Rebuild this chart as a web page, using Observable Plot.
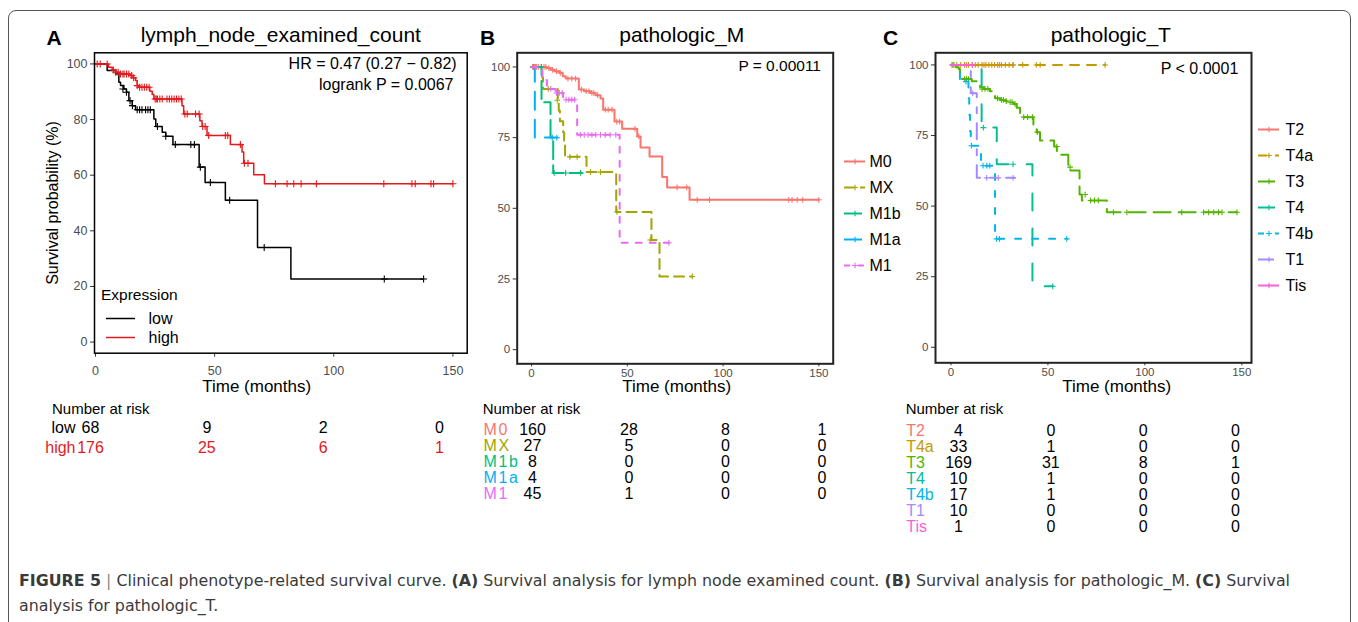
<!DOCTYPE html>
<html><head><meta charset="utf-8">
<script src="https://cdn.jsdelivr.net/npm/d3@7"></script>
<script src="https://cdn.jsdelivr.net/npm/@observablehq/plot@0.6"></script>
<style>
body{margin:0;background:#fff;}
#root{position:relative;width:1358px;height:622px;overflow:hidden;font-family:"Liberation Sans",Arial,sans-serif;background:#fff;}
.abs{position:absolute;white-space:nowrap;}
#root svg{position:absolute;overflow:visible;}
</style></head><body><div id="root"></div>
<script>
// ---------------- DATA ----------------
const riskTimes = [0, 50, 100, 150];
const xTicks = [0, 50, 100, 150];

// Panel A: lymph_node_examined_count
const groupsA = ["low", "high"];
const colorsA = ["#000000", "#e31a1c"];
const lowSteps = [[0,100],[4.9,97.6],[8.4,96.4],[9.8,93.4],[10.5,92.2],[11.9,91],[13,89.8],[14,86.8],[15.4,85],[16.8,83.5],[24.5,80.2],[25.3,77.5],[28,75.4],[29.5,74],[32.5,71],[43.5,62.9],[46,57.4],[54.5,51],[68,34],[82,22.7],[137.7,22.7]];
const lowCensor = [[11.5,91],[13,89.8],[14.5,86.8],[15.5,85],[17.5,83.5],[18.5,83.5],[19.5,83.5],[21,83.5],[22,83.5],[23,83.5],[26,77.5],[29.5,74],[33.5,71],[40,71],[41.5,71],[44,62.9],[48.2,57.4],[56.3,51],[70.8,34],[121.2,22.7],[137.7,22.7]];
const highSteps = [[0,100],[5.5,98.8],[7,97.8],[8.5,97],[10,96.4],[14.5,95.8],[15.8,95],[16.8,94],[17.5,92.2],[18,91.6],[22.8,90.2],[23.8,89],[24.5,87.4],[36.3,85],[37,82],[43.8,79.6],[44.7,77.5],[46.8,74.3],[56.6,71],[61.5,68.3],[62.2,64.3],[66.4,60.2],[70.9,56.9],[150,56.9]];
const highCensor = [[0.7,100],[2,100],[4.9,100],[7.5,97.8],[8.5,97],[9.5,97],[10.5,96.4],[11.5,96.4],[12,96.4],[13,96.4],[14,96.4],[15.2,95.8],[16,95],[17.5,92.2],[18.5,91.6],[19.5,91.6],[20.5,91.6],[21.5,91.6],[22.5,91.6],[25,87.4],[25.5,87.4],[26,87.4],[27,87.4],[28,87.4],[30,87.4],[31,87.4],[32,87.4],[33,87.4],[34,87.4],[35,87.4],[36,87.4],[37.5,82],[38.5,82],[42,82],[43.5,82],[45,77.5],[46,77.5],[47.5,74.3],[54.5,74.3],[55.5,74.3],[60.8,71],[62.5,64.3],[64,64.3],[75.5,56.9],[80.4,56.9],[83.2,56.9],[86.3,56.9],[92.7,56.9],[121,56.9],[132.8,56.9],[134.2,56.9],[140.8,56.9],[141.9,56.9],[150,56.9]];
const riskLow = [68, 9, 2, 0];
const riskHigh = [176, 25, 6, 1];

// Panel B: pathologic_M
const groupsB = ["M0", "MX", "M1b", "M1a", "M1"];
const colorsB = ["#F8766D", "#A3A500", "#00BF7D", "#00B0F6", "#E76BF3"];
const dashesB = [null, "10,6", "18,6", "18,10", "6,8"];
const m0Steps = [[0,100],[8,99.6],[10,99],[12,98.5],[14.5,97.9],[16.3,96.7],[17.8,95.9],[24.7,92],[27.4,91.4],[30.8,90.8],[33.4,90],[36,88.8],[37.4,84.9],[43.3,80.7],[47.3,78.1],[55.2,75.4],[56.9,71.5],[61.6,68.3],[68.2,61.1],[70.8,57.4],[82.5,53],[150,53]];
const m0Censor = [[0.5,100],[1.5,100],[2.5,100],[3.5,100],[5,100],[6.5,100],[7.5,100],[9,99.6],[11,99],[13,98.5],[15,97.9],[19,95.9],[21,95.9],[23,95.9],[26,92],[28.5,91.4],[30,91.4],[31.5,90.8],[32.5,90.8],[34.5,90],[38.5,84.9],[40,84.9],[42,84.9],[44.5,80.7],[46,80.7],[54,78.1],[56,75.4],[76,57.4],[81,57.4],[86.5,53],[92.9,53],[134.3,53],[136,53],[138.7,53],[141.6,53],[150,53]];
const mxSteps = [[0,100],[5.6,96.3],[6,92.2],[13.7,88.2],[14.2,84.5],[14.8,80.8],[16.5,76.9],[17,73],[17.5,68.2],[28.7,62.8],[44.2,48.7],[62.6,38.8],[66.8,25.9],[83.9,25.9]];
const mxCensor = [[1,100],[8.7,92.2],[13.4,88.2],[20,68.2],[23.8,68.2],[30.8,62.8],[36,62.8],[44.6,48.7],[62,38.8],[83.9,25.9]];
const m1bSteps = [[0,100],[5.2,87.5],[9.9,75],[11.3,62.5],[26.5,62.5]];
const m1bCensor = [[5.2,100],[11.8,62.5],[17.8,62.5],[25.6,62.5]];
const m1aSteps = [[0,100],[1.7,75],[13.4,75]];
const m1aCensor = [[10.8,75],[13.2,75]];
const m1Steps = [[0,100],[5.6,95.4],[8,92.2],[12.5,90.8],[16.5,88.4],[23.8,76],[46,37.8],[71.7,37.8]];
const m1Censor = [[2,100],[10,92.2],[13,90.8],[14.5,90.8],[16,90.8],[18,88.4],[19.5,88.4],[21,88.4],[22.5,88.4],[25.5,76],[27.5,76],[29.5,76],[31.5,76],[33.5,76],[36,76],[38.5,76],[41,76],[44,76],[71.7,37.8]];
const riskM0 = [160, 28, 8, 1];
const riskMX = [27, 5, 0, 0];
const riskM1b = [8, 0, 0, 0];
const riskM1a = [4, 0, 0, 0];
const riskM1 = [45, 1, 0, 0];

// Panel C: pathologic_T
const groupsC = ["T2", "T4a", "T3", "T4", "T4b", "T1", "Tis"];
const colorsC = ["#F8766D", "#C49A00", "#53B400", "#00C094", "#00B6EB", "#A58AFF", "#FB61D7"];
const dashesC = [null, "9,8", "17,8", "17,18", "6,11", "16,10,6,10", null];
const t2Steps = [[0,100],[32,100]];
const t2Censor = [[8,100],[17,100],[25,100],[32,100]];
const t4aSteps = [[0,100],[79.5,100]];
const t4aCensor = [[1,100],[3,100],[5,100],[7,100],[9,100],[11,100],[12.5,100],[14,100],[16,100],[18,100],[19.5,100],[21,100],[22.5,100],[24,100],[26,100],[28,100],[30,100],[32,100],[37,100],[44,100],[46,100],[79.5,100]];
const t3Steps = [[0,100],[2.6,99.2],[4,98.6],[4.6,96.8],[5.5,95],[10.7,94.2],[13.3,93.5],[15,92.1],[17,91.5],[20.1,90.7],[22.7,88.2],[25.3,87.6],[28,87.2],[29.6,86.8],[32.2,86.2],[33.9,84.8],[35.6,81.5],[42.5,77.7],[44.2,76.2],[45.9,73.2],[53.2,71.1],[54.6,68.2],[60.5,63.8],[61.4,62.6],[66.3,54.1],[67.5,52],[80.4,47.8],[147.5,47.8]];
const t3Censor = [[0.5,100],[1.5,100],[7,95],[8,95],[9,95],[16,91.5],[17.5,91.5],[19,91.5],[24,88.2],[26,87.6],[27,87.6],[28.5,87.2],[30.5,86.8],[31.5,86.8],[33,86.2],[37.5,81.5],[39.5,81.5],[42,81.5],[44.5,76.2],[54.6,71.1],[61.4,63.8],[69.2,54.1],[72,52],[74,52],[76,52],[83.8,47.8],[90.7,47.8],[119,47.8],[130.3,47.8],[132.9,47.8],[135.5,47.8],[138,47.8],[139.8,47.8],[147.5,47.8]];
const t4Steps = [[0,100],[15.8,77.8],[23.6,64.8],[42,21.6],[52.5,21.6]];
const t4Censor = [[16.7,77.8],[32,64.8],[52.5,21.6]];
const t4bSteps = [[0,100],[4.6,94.1],[9,88.2],[9.4,82.4],[9.8,76.5],[10.2,71.4],[15.5,64.3],[22.7,38.4],[59.7,38.4]];
const t4bCensor = [[7.7,94.1],[10.5,71.4],[16.5,64.3],[18.5,64.3],[20,64.3],[23.5,38.4],[25,38.4],[59.7,38.4]];
const t1Steps = [[0,100],[10.2,90],[13.3,60],[33,60]];
const t1Censor = [[11.2,90],[18.4,60],[24.4,60],[32,60]];
const tisSteps = [[0,100],[11,100]];
const tisCensor = [[11,100]];
const riskT2 = [4, 0, 0, 0];
const riskT4a = [33, 1, 0, 0];
const riskT3 = [169, 31, 8, 1];
const riskT4 = [10, 1, 0, 0];
const riskT4b = [17, 1, 0, 0];
const riskT1 = [10, 0, 0, 0];
const riskTis = [1, 0, 0, 0];

// ---------------- RENDER ----------------
const root = document.getElementById("root");
const FONT = '"Liberation Sans", Arial, sans-serif';
const tickGray = "#4d4d4d";

function place(node, left, top) {
  node.style.left = left + "px"; node.style.top = top + "px";
  root.appendChild(node);
  return node;
}
function txt(html, x, baseline, o = {}) {
  const size = o.size || 16;
  const d = document.createElement("div");
  d.className = "abs";
  d.innerHTML = html;
  d.style.fontSize = size + "px";
  d.style.lineHeight = size + "px";
  d.style.color = o.color || "#000";
  d.style.fontWeight = o.weight || "normal";
  if (o.family) d.style.fontFamily = o.family;
  d.style.left = x + "px";
  d.style.top = (baseline - 0.8465 * size) + "px";
  const a = o.anchor || "start";
  if (a === "middle") d.style.transform = "translateX(-50%)";
  if (a === "end") d.style.transform = "translateX(-100%)";
  root.appendChild(d);
  return d;
}

function panelPlot(c) {
  const marks = [
    Plot.axisX({ticks: xTicks, tickSize: c.xTickSize, tickPadding: c.xPad, fontSize: c.fontSize, fill: tickGray, stroke: "#333", label: null}),
    Plot.axisY({ticks: c.yTicks, tickSize: 4, tickPadding: 3, fontSize: c.fontSize, fill: tickGray, stroke: "#333", label: null})
  ];
  for (const s of c.series) {
    marks.push(Plot.line(s.steps, {x: d => d[0], y: d => d[1], curve: "step-after", stroke: s.color, strokeWidth: c.lineWidth, strokeDasharray: s.dash || undefined}));
    marks.push(Plot.dot(s.censor, {x: d => d[0], y: d => d[1], symbol: "plus", r: c.dotR, stroke: s.color, strokeWidth: 1.1}));
  }
  marks.push(Plot.frame({stroke: c.frameStroke, strokeWidth: c.frameWidth}));
  const p = Plot.plot({
    width: c.width, height: c.height,
    marginLeft: c.fx0 - c.left, marginRight: c.left + c.width - c.fx1,
    marginTop: c.fy0 - c.top, marginBottom: c.top + c.height - c.fy1,
    x: {domain: c.xDomain}, y: {domain: c.yDomain},
    style: {fontFamily: FONT, background: "transparent", overflow: "visible"},
    marks
  });
  place(p, c.left, c.top);
}

function legendPlot(c) {
  const marks = [];
  c.names.forEach((n, i) => {
    marks.push(Plot.ruleY([n], {y: d => d, x1: c.lx0, x2: c.lx1, stroke: c.colors[i], strokeWidth: c.lineWidth, strokeDasharray: c.dashes[i] || undefined}));
  });
  if (c.dotR > 0) marks.push(Plot.dot(c.names, {x: (c.lx0 + c.lx1) / 2, y: d => d, symbol: "plus", r: c.dotR, stroke: (d, i) => c.colors[i], strokeWidth: 1.1}));
  marks.push(Plot.text(c.names, {x: c.tx, y: d => d, text: d => d, textAnchor: "start", fontSize: c.fontSize, fill: "#000"}));
  const p = Plot.plot({
    width: c.width, height: c.height, margin: 0,
    x: {domain: [0, c.width], range: [0, c.width], axis: null},
    y: {type: "point", domain: c.names, range: c.yRange, padding: 0, axis: null},
    color: {type: "identity"},
    style: {fontFamily: FONT, background: "transparent", overflow: "visible"},
    marks
  });
  place(p, c.left, c.top);
}

function riskPlot(c) {
  const data = c.names.flatMap((n, i) => riskTimes.map((t, j) => ({name: n, t, v: c.rows[i][j], color: c.numColors[i]})));
  const p = Plot.plot({
    width: c.width, height: c.height,
    marginLeft: c.labelX - c.left, marginRight: 0, marginTop: 0, marginBottom: 0,
    x: {domain: [0, 150], range: [c.x0 - c.left, c.x150 - c.left], axis: null},
    y: {type: "point", domain: c.names, range: [c.y0 - c.top, c.y1 - c.top], padding: 0, axis: null},
    color: {type: "identity"},
    style: {fontFamily: FONT, background: "transparent", overflow: "visible"},
    marks: [
      Plot.text(data, {x: "t", y: "name", text: d => String(d.v), fill: "color", fontSize: c.numSize}),
      Plot.text(c.names, {frameAnchor: "left", y: d => d, text: d => d, textAnchor: c.labelAnchor, fill: (d, i) => c.labelColors[i], fontSize: c.labelSize})
    ]
  });
  place(p, c.left, c.top);
  if (c.letterSpacing) {
    const gs = p.querySelectorAll('g[aria-label="text"]');
    gs[gs.length - 1].style.letterSpacing = c.letterSpacing;
  }
}

// outer border
const border = document.createElement("div");
border.className = "abs";
Object.assign(border.style, {left: "8px", top: "10px", width: "1343px", height: "640px", border: "1.3px solid #555", borderRadius: "8px", boxSizing: "border-box"});
root.appendChild(border);

// ---- Panel A ----
panelPlot({
  left: 0, top: 0, width: 480, height: 400, fx0: 94, fy0: 52.3, fx1: 466.7, fy1: 352.7,
  xDomain: [-0.42, 156], yDomain: [-4, 104], yTicks: [0, 20, 40, 60, 80, 100],
  fontSize: 12.5, xTickSize: 4, xPad: 9, frameStroke: "#000", frameWidth: 1.5, lineWidth: 1.5, dotR: 2.4,
  series: [
    {steps: lowSteps, censor: lowCensor, color: colorsA[0]},
    {steps: highSteps, censor: highCensor, color: colorsA[1]}
  ]
});
txt("A", 46.5, 45, {size: 21, weight: "bold"});
txt("lymph_node_examined_count", 280.8, 42, {size: 21, anchor: "middle"});
txt("HR = 0.47 (0.27 − 0.82)", 456.7, 70, {size: 16, anchor: "end"});
txt("logrank P = 0.0067", 453.5, 91, {size: 16, anchor: "end"});
txt("Time (months)", 256.7, 392, {size: 17, anchor: "middle"});
const yl = txt("Survival probability (%)", 53.3, 0, {size: 16});
yl.style.top = "203.3px"; yl.style.transform = "translate(-50%,-50%) rotate(-90deg)";
txt("Expression", 101, 300, {size: 15.5});
legendPlot({left: 100, top: 305, width: 80, height: 45, names: groupsA, colors: colorsA, dashes: [null, null],
  yRange: [13, 32.7], lx0: 6, lx1: 35, tx: 48, fontSize: 16, lineWidth: 1.5, dotR: 0});
txt("Number at risk", 52, 413.3, {size: 15});
riskPlot({left: 0, top: 415, width: 480, height: 45, names: groupsA, rows: [riskLow, riskHigh],
  labelColors: colorsA, numColors: colorsA, labelX: 75, labelAnchor: "end", x0: 90, x150: 439,
  y0: 427, y1: 447, numSize: 16, labelSize: 16});

// ---- Panel B ----
panelPlot({
  left: 460, top: 0, width: 380, height: 400, fx0: 516.7, fy0: 52.3, fx1: 832.7, fy1: 363.3,
  xDomain: [-7.5, 157.5], yDomain: [-5, 105], yTicks: [0, 25, 50, 75, 100],
  fontSize: 11.5, xTickSize: 3, xPad: 2, frameStroke: "#222", frameWidth: 2, lineWidth: 2, dotR: 2,
  series: [
    {steps: m0Steps, censor: m0Censor, color: colorsB[0], dash: dashesB[0]},
    {steps: mxSteps, censor: mxCensor, color: colorsB[1], dash: dashesB[1]},
    {steps: m1bSteps, censor: m1bCensor, color: colorsB[2], dash: dashesB[2]},
    {steps: m1aSteps, censor: m1aCensor, color: colorsB[3], dash: dashesB[3]},
    {steps: m1Steps, censor: m1Censor, color: colorsB[4], dash: dashesB[4]}
  ]
});
txt("B", 480, 45, {size: 21, weight: "bold"});
txt("pathologic_M", 681.7, 42, {size: 21, anchor: "middle"});
txt("P = 0.00011", 821, 71.5, {size: 15.5, anchor: "end"});
txt("Time (months)", 676.7, 392, {size: 17, anchor: "middle"});
legendPlot({left: 840, top: 145, width: 60, height: 135, names: groupsB, colors: colorsB, dashes: dashesB,
  yRange: [15, 120], lx0: 4, lx1: 25, tx: 29, fontSize: 16, lineWidth: 2, dotR: 2});
txt("Number at risk", 482.7, 413.3, {size: 15});
riskPlot({left: 460, top: 415, width: 400, height: 90, names: groupsB, rows: [riskM0, riskMX, riskM1b, riskM1a, riskM1],
  labelColors: colorsB, numColors: groupsB.map(() => "#000"), labelX: 483, labelAnchor: "start", x0: 532, x150: 821.5,
  y0: 427.3, y1: 494, numSize: 16, labelSize: 16, letterSpacing: "1.6px"});

// ---- Panel C ----
panelPlot({
  left: 880, top: 0, width: 380, height: 400, fx0: 935, fy0: 52.3, fx1: 1251, fy1: 362.3,
  xDomain: [-8, 155], yDomain: [-5.5, 104.3], yTicks: [0, 25, 50, 75, 100],
  fontSize: 11.5, xTickSize: 3, xPad: 2, frameStroke: "#222", frameWidth: 2, lineWidth: 2, dotR: 2,
  series: [
    {steps: t2Steps, censor: t2Censor, color: colorsC[0], dash: dashesC[0]},
    {steps: t4aSteps, censor: t4aCensor, color: colorsC[1], dash: dashesC[1]},
    {steps: t3Steps, censor: t3Censor, color: colorsC[2], dash: dashesC[2]},
    {steps: t4Steps, censor: t4Censor, color: colorsC[3], dash: dashesC[3]},
    {steps: t4bSteps, censor: t4bCensor, color: colorsC[4], dash: dashesC[4]},
    {steps: t1Steps, censor: t1Censor, color: colorsC[5], dash: dashesC[5]},
    {steps: tisSteps, censor: tisCensor, color: colorsC[6], dash: dashesC[6]}
  ]
});
txt("C", 883, 45, {size: 21, weight: "bold"});
txt("pathologic_T", 1110.8, 42, {size: 21, anchor: "middle"});
txt("P &lt; 0.0001", 1238.3, 74.5, {size: 16, anchor: "end"});
txt("Time (months)", 1116.7, 392, {size: 17, anchor: "middle"});
legendPlot({left: 1250, top: 110, width: 70, height: 190, names: groupsC, colors: colorsC, dashes: dashesC,
  yRange: [18.3, 176], lx0: 8, lx1: 29, tx: 35, fontSize: 16, lineWidth: 2, dotR: 2});
txt("Number at risk", 905.7, 414, {size: 15});
riskPlot({left: 880, top: 415, width: 400, height: 120, names: groupsC, rows: [riskT2, riskT4a, riskT3, riskT4, riskT4b, riskT1, riskTis],
  labelColors: colorsC, numColors: groupsC.map(() => "#000"), labelX: 905.7, labelAnchor: "start", x0: 958, x150: 1235,
  y0: 429.3, y1: 526, numSize: 16, labelSize: 16});

// ---- Caption ----
const capFamily = '"Liberation Sans Narrow", "DejaVu Sans Condensed", "Liberation Sans", sans-serif';
const cap1 = txt('<b>FIGURE 5</b> <span style="color:#888">|</span> Clinical phenotype-related survival curve. <b>(A)</b> Survival analysis for lymph node examined count. <b>(B)</b> Survival analysis for pathologic_M. <b>(C)</b> Survival', 19, 586.5, {size: 16, color: "#3a3a3a", family: capFamily});
const cap2 = txt('analysis for pathologic_T.', 19, 612, {size: 16, color: "#3a3a3a", family: capFamily});
const w1 = cap1.getBoundingClientRect().width;
const sx = 1271 / w1;
cap1.style.transformOrigin = "left center"; cap1.style.transform = `scaleX(${sx})`;
cap2.style.transformOrigin = "left center"; cap2.style.transform = `scaleX(${sx})`;
</script></body></html>
